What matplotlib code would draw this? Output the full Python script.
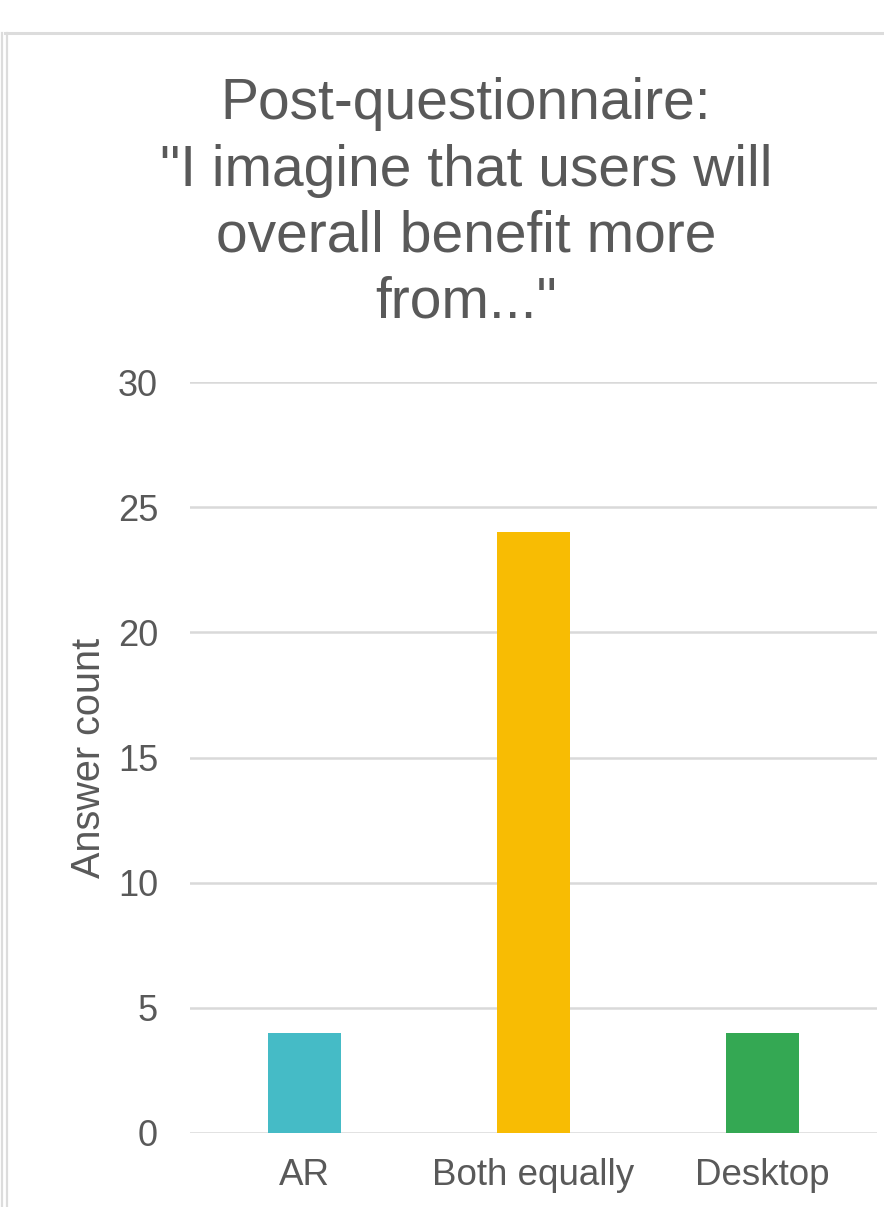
import matplotlib
matplotlib.use("Agg")
import matplotlib.pyplot as plt
from matplotlib.lines import Line2D

categories = ["AR", "Both equally", "Desktop"]
counts = [4, 24, 4]
bar_colors = ["#45BBC6", "#F8BC03", "#34A853"]
yticks = [0, 5, 10, 15, 20, 25, 30]
title = 'Post-questionnaire:\n"I imagine that users will\noverall benefit more\nfrom..."'
ylabel = "Answer count"

plt.rcParams["font.family"] = ["Liberation Sans", "DejaVu Sans"]
text_color = "#595959"
grid_color = "#D9D9D9"

W, H = 884, 1207
fig = plt.figure(figsize=(W / 100, H / 100), dpi=100)

ax = fig.add_axes([190 / W, 1 - 1133 / H, 687 / W, (1133 - 382) / H])
x = list(range(len(categories)))
ax.bar(x, counts, width=0.315, color=bar_colors, zorder=3)
ax.set_xlim(-0.5, len(categories) - 0.5)
ax.set_ylim(0, 30)
ax.set_yticks(yticks)
ax.set_xticks(x)
ax.set_xticklabels(categories)
ax.grid(axis="y", color=grid_color, linewidth=1.8, zorder=0)
ax.set_axisbelow(True)
for s in ax.spines.values():
    s.set_visible(False)
ax.tick_params(axis="y", length=0, pad=23, labelsize=26, labelcolor=text_color)
ax.tick_params(axis="x", length=0, pad=18, labelsize=26.5, labelcolor=text_color)
ax.set_ylabel(ylabel, fontsize=28.5, color=text_color)
ax.yaxis.set_label_coords(-0.119, 0.5)

fig.text(466 / W, 1 - 318 / H, title, ha="center", va="baseline",
         fontsize=41, color=text_color, linespacing=1.29, multialignment="center")

# outer frame lines
border = "#DCDCDC"
fig.add_artist(Line2D([5 / W, 1], [1 - 33 / H, 1 - 33 / H], color=border, linewidth=2.2))
fig.add_artist(Line2D([1.5 / W, 1.5 / W], [0, 1 - 33 / H], color=border, linewidth=1.6))
fig.add_artist(Line2D([6.5 / W, 6.5 / W], [0, 1 - 33 / H], color=border, linewidth=1.6))

fig.savefig("out.png", dpi=100)
